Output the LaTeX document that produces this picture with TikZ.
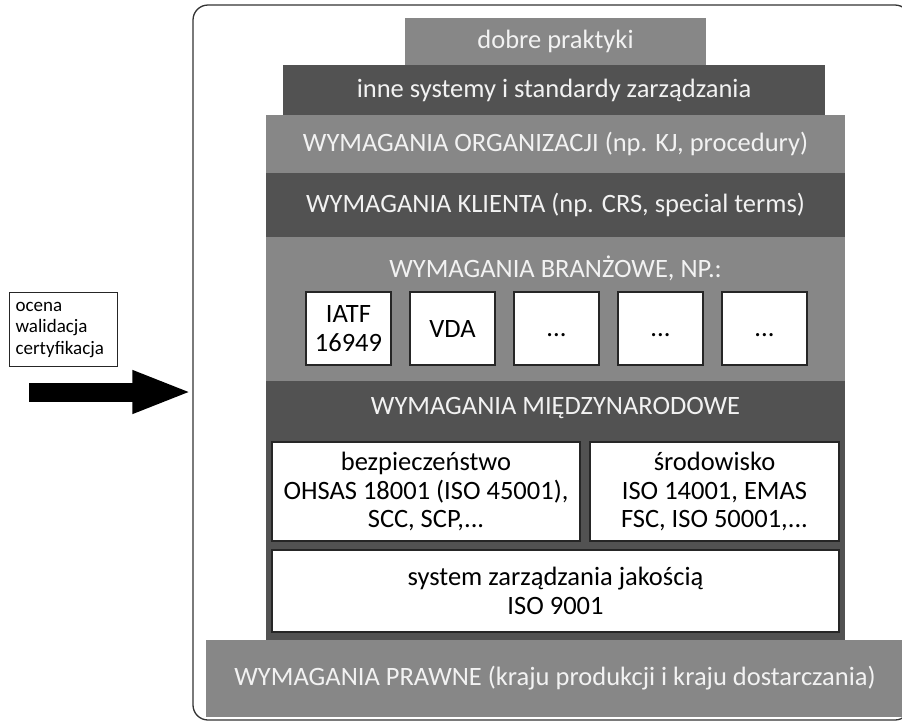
\documentclass[tikz,border=0pt]{standalone}
\usepackage{fontspec}
\setmainfont{Carlito}
\usepackage{xcolor}
\usepackage{tikz}
\usetikzlibrary{positioning,arrows.meta,calc}

\definecolor{bandlight}{RGB}{135,135,135}
\definecolor{banddark}{RGB}{82,82,82}
\definecolor{bandtext}{RGB}{242,242,242}

\tikzset{
    band/.style={rectangle, inner sep=0pt, text=bandtext, font=\fontsize{26.5}{30}\selectfont},
    lightband/.style={band, fill=bandlight},
    darkband/.style={band, fill=banddark},
    stdbox/.style={rectangle, fill=white, draw=black!85, line width=1.2pt, inner sep=0pt,
        align=center, font=\fontsize{26.5}{28.5}\selectfont},
    frame/.style={rectangle, rounded corners=15pt, draw=black!80, line width=1.3pt, inner sep=0pt}
}

\begin{document}
\begin{tikzpicture}[x=1pt, y=-1pt]
\useasboundingbox (0,0) rectangle (902,724);
\clip (0,0) rectangle (902,724);

% ramka
\node[frame, minimum width=717pt, minimum height=715pt] (frame) at (551.5,362.5) {};

% warstwy od gory
\node[lightband, minimum width=301pt, minimum height=47pt] (dobre) at (555.5,41.5) {dobre praktyki};
\node[darkband, minimum width=542pt, minimum height=50pt] (inne) at (554,90) {inne systemy i standardy zarządzania};
\node[lightband, minimum width=579pt, minimum height=58pt] (org) at (555.5,144) {WYMAGANIA ORGANIZACJI (np. KJ, procedury)};
\node[darkband, minimum width=579pt, minimum height=64pt] (klient) at (555.5,205) {WYMAGANIA KLIENTA (np. CRS, special terms)};
\node[lightband, minimum width=579pt, minimum height=144pt] (branza) at (555.5,309) {};
\node[darkband, minimum width=579pt, minimum height=259pt] (miedzy) at (555.5,510.5) {};
\node[lightband, minimum width=698pt, minimum height=77pt] (prawne) at (555,678.5) {WYMAGANIA PRAWNE (kraju produkcji i kraju dostarczania)};

% wymagania branzowe
\node[band] (branzaT) at (555.5,268) {WYMAGANIA BRANŻOWE, NP.:};
\node[stdbox, minimum width=85pt, minimum height=73pt] (iatf) at (348.5,328.5) {IATF\\16949};
\node[stdbox, minimum width=85pt, minimum height=73pt] (vda) at (452.5,328.5) {VDA};
\node[stdbox, minimum width=85pt, minimum height=73pt] (b3) at (556.5,328.5) {\vphantom{VDA}...};
\node[stdbox, minimum width=85pt, minimum height=73pt] (b4) at (660.5,328.5) {\vphantom{VDA}...};
\node[stdbox, minimum width=85pt, minimum height=73pt] (b5) at (764.5,328.5) {\vphantom{VDA}...};

% wymagania miedzynarodowe
\node[band] (miedzyT) at (555.5,408) {WYMAGANIA MIĘDZYNARODOWE};
\node[stdbox, minimum width=308pt, minimum height=99pt] (bhp) at (426,491.5) {bezpieczeństwo\\OHSAS 18001 (ISO 45001),\\SCC, SCP,...};
\node[stdbox, minimum width=249pt, minimum height=99pt] (srod) at (714.5,491.5) {środowisko\\ISO 14001, EMAS\\FSC, ISO 50001,...};
\node[stdbox, minimum width=567pt, minimum height=82pt] (iso) at (555.5,591) {system zarządzania jakością\\ISO 9001};

% ocena z zewnatrz
\node[rectangle, draw=black!85, line width=1.2pt, anchor=north west, text width=96pt,
    inner xsep=6pt, inner ysep=0pt, minimum height=74pt, align=left,
    font=\fontsize{19}{21.5}\selectfont] (ocena) at (9,292)
    {ocena\\walidacja\\certyfikacja};
\coordinate (arrstart) at (29,392);
\draw[-{Triangle[length=60pt,width=39pt]}, line width=19pt] (arrstart) -- (arrstart -| frame.west);

\end{tikzpicture}
\end{document}
